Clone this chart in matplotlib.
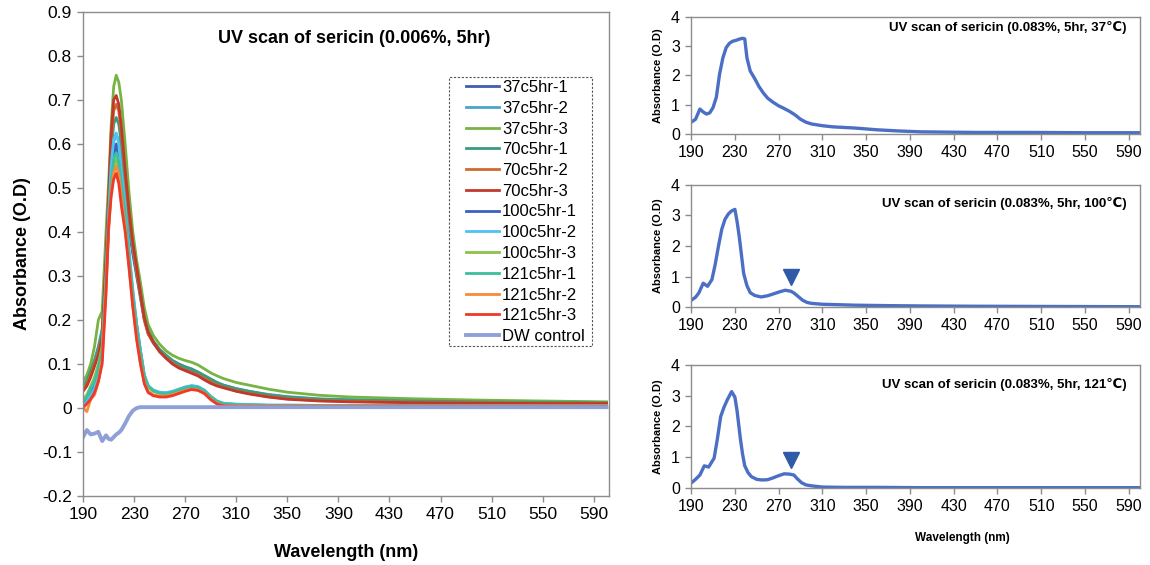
import matplotlib
matplotlib.use("Agg")
import matplotlib.pyplot as plt
from matplotlib.patches import Rectangle

plt.rcParams['font.family'] = ['Liberation Sans', 'DejaVu Sans']

# ---- left panel: 0.006% sericin, 5 hr ----
wl = [190, 193, 196, 199, 202, 205, 208, 210, 212, 214, 216, 218, 220, 223, 226, 229, 232, 235, 238, 241,
      245, 250, 255, 260, 265, 270, 275, 280, 285, 290, 295, 300, 310, 320, 335, 350, 375, 400, 450, 500, 550, 600]

c37_1 = [0.045, 0.06, 0.08, 0.10, 0.13, 0.17, 0.30, 0.42, 0.52, 0.575, 0.59, 0.58, 0.55, 0.48, 0.41, 0.35, 0.30, 0.25, 0.20, 0.17,
         0.148, 0.13, 0.116, 0.105, 0.097, 0.09, 0.085, 0.078, 0.07, 0.062, 0.055, 0.049, 0.041, 0.035, 0.028, 0.023, 0.019, 0.017, 0.015, 0.013, 0.012, 0.011]
c37_2 = [0.05, 0.065, 0.09, 0.11, 0.14, 0.18, 0.31, 0.44, 0.55, 0.605, 0.62, 0.61, 0.57, 0.49, 0.42, 0.36, 0.31, 0.26, 0.205, 0.175,
         0.152, 0.133, 0.12, 0.108, 0.10, 0.093, 0.088, 0.081, 0.073, 0.065, 0.058, 0.052, 0.044, 0.038, 0.031, 0.026, 0.021, 0.019, 0.016, 0.015, 0.014, 0.013]
c37_3 = [0.06, 0.075, 0.10, 0.14, 0.20, 0.22, 0.40, 0.51, 0.64, 0.73, 0.756, 0.74, 0.70, 0.60, 0.49, 0.40, 0.336, 0.285, 0.228, 0.19,
         0.165, 0.145, 0.13, 0.12, 0.113, 0.108, 0.104, 0.098, 0.089, 0.08, 0.073, 0.067, 0.058, 0.052, 0.043, 0.036, 0.029, 0.025, 0.021, 0.018, 0.016, 0.014]
c70_1 = [0.045, 0.06, 0.085, 0.105, 0.135, 0.175, 0.33, 0.46, 0.58, 0.645, 0.66, 0.645, 0.60, 0.51, 0.43, 0.365, 0.31, 0.26, 0.205, 0.175,
         0.152, 0.133, 0.12, 0.108, 0.10, 0.094, 0.089, 0.082, 0.074, 0.066, 0.058, 0.052, 0.044, 0.038, 0.03, 0.025, 0.02, 0.018, 0.016, 0.014, 0.013, 0.012]
c70_2 = [0.04, 0.055, 0.075, 0.10, 0.125, 0.165, 0.34, 0.47, 0.60, 0.675, 0.69, 0.675, 0.625, 0.53, 0.44, 0.37, 0.31, 0.255, 0.20, 0.168,
         0.148, 0.128, 0.114, 0.102, 0.093, 0.086, 0.081, 0.075, 0.067, 0.059, 0.052, 0.047, 0.039, 0.033, 0.026, 0.021, 0.017, 0.015, 0.013, 0.012, 0.011, 0.011]
c70_3 = [0.038, 0.05, 0.07, 0.095, 0.12, 0.16, 0.34, 0.48, 0.62, 0.70, 0.71, 0.69, 0.64, 0.54, 0.45, 0.375, 0.32, 0.26, 0.205, 0.172,
         0.15, 0.128, 0.113, 0.10, 0.091, 0.085, 0.079, 0.073, 0.064, 0.056, 0.05, 0.046, 0.038, 0.032, 0.025, 0.02, 0.016, 0.014, 0.012, 0.011, 0.01, 0.01]
c100_1 = [0.01, 0.02, 0.035, 0.05, 0.08, 0.13, 0.30, 0.43, 0.53, 0.585, 0.60, 0.58, 0.53, 0.45, 0.35, 0.26, 0.19, 0.13, 0.075, 0.05,
          0.04, 0.035, 0.034, 0.037, 0.042, 0.047, 0.05, 0.048, 0.04, 0.026, 0.015, 0.01, 0.008, 0.007, 0.006, 0.006, 0.006, 0.006, 0.006, 0.006, 0.006, 0.006]
c100_2 = [0.005, 0.015, 0.03, 0.045, 0.075, 0.125, 0.30, 0.44, 0.55, 0.61, 0.625, 0.60, 0.54, 0.46, 0.36, 0.27, 0.19, 0.13, 0.075, 0.051,
          0.041, 0.036, 0.035, 0.038, 0.043, 0.048, 0.051, 0.049, 0.041, 0.027, 0.016, 0.011, 0.009, 0.008, 0.007, 0.007, 0.006, 0.006, 0.006, 0.006, 0.006, 0.006]
c100_3 = [0.02, 0.03, 0.05, 0.07, 0.10, 0.14, 0.28, 0.41, 0.50, 0.55, 0.565, 0.545, 0.50, 0.43, 0.34, 0.25, 0.18, 0.12, 0.07, 0.048,
          0.038, 0.033, 0.032, 0.035, 0.04, 0.045, 0.048, 0.046, 0.038, 0.024, 0.014, 0.009, 0.007, 0.006, 0.006, 0.006, 0.006, 0.006, 0.006, 0.006, 0.006, 0.006]
c121_1 = [0.015, 0.025, 0.045, 0.06, 0.09, 0.135, 0.29, 0.42, 0.51, 0.565, 0.58, 0.56, 0.51, 0.44, 0.345, 0.255, 0.185, 0.125, 0.072, 0.05,
          0.039, 0.034, 0.033, 0.036, 0.041, 0.046, 0.049, 0.047, 0.039, 0.025, 0.015, 0.01, 0.008, 0.007, 0.006, 0.006, 0.006, 0.006, 0.006, 0.006, 0.006, 0.006]
c121_2 = [0.0, -0.008, 0.02, 0.03, 0.06, 0.11, 0.27, 0.40, 0.49, 0.535, 0.55, 0.53, 0.48, 0.41, 0.32, 0.23, 0.16, 0.10, 0.058, 0.038,
          0.03, 0.027, 0.027, 0.03, 0.035, 0.04, 0.043, 0.041, 0.034, 0.02, 0.01, 0.006, 0.005, 0.005, 0.005, 0.005, 0.005, 0.005, 0.005, 0.005, 0.005, 0.005]
c121_3 = [0.0, 0.01, 0.02, 0.035, 0.06, 0.10, 0.26, 0.41, 0.48, 0.52, 0.533, 0.51, 0.46, 0.40, 0.32, 0.23, 0.155, 0.10, 0.055, 0.035,
          0.028, 0.025, 0.025, 0.028, 0.033, 0.038, 0.042, 0.04, 0.033, 0.019, 0.009, 0.005, 0.004, 0.004, 0.004, 0.004, 0.004, 0.004, 0.004, 0.004, 0.004, 0.004]
dw_ctrl = [-0.066, -0.05, -0.06, -0.058, -0.054, -0.075, -0.062, -0.07, -0.072, -0.066, -0.06, -0.056, -0.05, -0.035, -0.018, -0.006, 0.0, 0.002, 0.002, 0.002,
           0.002, 0.002, 0.002, 0.002, 0.002, 0.002, 0.002, 0.002, 0.002, 0.002, 0.002, 0.002, 0.002, 0.002, 0.002, 0.002, 0.002, 0.002, 0.002, 0.002, 0.002, 0.002]

labels = ['37c5hr-1', '37c5hr-2', '37c5hr-3', '70c5hr-1', '70c5hr-2', '70c5hr-3',
          '100c5hr-1', '100c5hr-2', '100c5hr-3', '121c5hr-1', '121c5hr-2', '121c5hr-3', 'DW control']
series = [c37_1, c37_2, c37_3, c70_1, c70_2, c70_3, c100_1, c100_2, c100_3, c121_1, c121_2, c121_3, dw_ctrl]
colors = ['#3e5fae', '#4aa5c8', '#77b443', '#3a9a80', '#d06a30', '#c0392b',
          '#3d5fc0', '#4ec3ee', '#8bc34a', '#3cbf9f', '#f58b3b', '#ee3a2a', '#8fa0d8']

# ---- right panels: 0.083% sericin, 5 hr ----
top_wl = [190, 194, 198, 201, 204, 207, 210, 213, 216, 219, 222, 225, 228, 231, 234, 237, 239, 241, 244, 248, 252,
          256, 260, 265, 270, 275, 280, 285, 290, 295, 300, 310, 320, 340, 360, 380, 400, 450, 500, 550, 600]
top_od = [0.4, 0.5, 0.85, 0.75, 0.68, 0.72, 0.9, 1.25, 2.05, 2.6, 2.95, 3.1, 3.17, 3.2, 3.24, 3.27, 3.25, 2.6, 2.15, 1.9, 1.62,
          1.4, 1.22, 1.08, 0.96, 0.87, 0.77, 0.65, 0.5, 0.4, 0.34, 0.28, 0.24, 0.2, 0.14, 0.1, 0.07, 0.05, 0.05, 0.04, 0.04]

mid_wl = [190, 194, 197, 201, 205, 209, 212, 215, 218, 221, 224, 227, 230, 232, 234, 236, 238, 241, 244, 248,
          254, 260, 266, 271, 276, 281, 284, 288, 292, 296, 300, 310, 320, 340, 370, 400, 450, 500, 550, 600]
mid_od = [0.22, 0.32, 0.46, 0.78, 0.68, 0.9, 1.4, 2.0, 2.55, 2.88, 3.05, 3.15, 3.2, 2.8, 2.3, 1.7, 1.1, 0.7, 0.47, 0.38,
          0.33, 0.37, 0.44, 0.5, 0.55, 0.52, 0.46, 0.34, 0.22, 0.15, 0.12, 0.09, 0.08, 0.06, 0.045, 0.035, 0.025, 0.02, 0.015, 0.01]

bot_wl = [190, 194, 198, 202, 206, 211, 214, 217, 220, 223, 227, 230, 232, 235, 237, 239, 242, 245, 250,
          255, 260, 265, 270, 275, 280, 284, 287, 291, 295, 300, 310, 330, 360, 400, 450, 500, 550, 600]
bot_od = [0.16, 0.28, 0.42, 0.72, 0.68, 0.97, 1.6, 2.32, 2.62, 2.86, 3.13, 2.95, 2.5, 1.6, 1.1, 0.72, 0.5, 0.37, 0.28,
          0.26, 0.27, 0.33, 0.4, 0.46, 0.45, 0.42, 0.3, 0.17, 0.1, 0.07, 0.03, 0.02, 0.02, 0.01, 0.01, 0.01, 0.01, 0.01]

right_titles = ['UV scan of sericin (0.083%, 5hr, 37\u2103)',
                'UV scan of sericin (0.083%, 5hr, 100\u2103)',
                'UV scan of sericin (0.083%, 5hr, 121\u2103)']
arrow_wl = 281
arrow_od = [None, 0.98, 0.92]  # triangle markers on the 100 and 121 C panels

xticks = list(range(190, 600, 40))
spine_col = '#8c8c8c'


def style_axes(ax, tsize):
    for s in ax.spines.values():
        s.set_color(spine_col)
        s.set_linewidth(1.0)
    ax.tick_params(direction='out', length=4, width=1, color=spine_col, labelsize=tsize, pad=4)
    ax.set_xticks(xticks)


fig = plt.figure(figsize=(11.5, 5.65), dpi=100)

ax = fig.add_axes([0.0722, 0.122, 0.4574, 0.857])
for y, c, lab in zip(series, colors, labels):
    lw = 2.8 if lab == 'DW control' else 2.0
    ax.plot(wl, y, color=c, lw=lw, label=lab)
ax.set_xlim(190, 602)
ax.set_ylim(-0.2, 0.9)
ax.set_yticks([-0.2, -0.1, 0, 0.1, 0.2, 0.3, 0.4, 0.5, 0.6, 0.7, 0.8, 0.9])
ax.set_yticklabels(['-0.2', '-0.1', '0', '0.1', '0.2', '0.3', '0.4', '0.5', '0.6', '0.7', '0.8', '0.9'])
style_axes(ax, 12.5)
ax.set_xlabel('Wavelength (nm)', fontsize=13, fontweight='bold', labelpad=16)
ax.set_ylabel('Absorbance (O.D)', fontsize=13, fontweight='bold', labelpad=8)
ax.text(0.515, 0.946, 'UV scan of sericin (0.006%, 5hr)', transform=ax.transAxes,
        ha='center', va='center', fontsize=13, fontweight='bold')

# legend without its own frame, then a dashed box drawn around it
leg = ax.legend(loc='upper left', bbox_to_anchor=(466 / 1150, 1 - 80 / 565), bbox_transform=fig.transFigure,
                fontsize=12, handlelength=2.0, handletextpad=0.15, labelspacing=0.345,
                borderpad=0, borderaxespad=0, frameon=False)
fig.patches.append(Rectangle((449 / 1150, 1 - 346 / 565), 143 / 1150, 269 / 565, transform=fig.transFigure,
                             fill=False, ec='#555555', lw=0.8, ls=(0, (2, 1.5))))

right_pos = [[0.601, 0.763, 0.390, 0.207],
             [0.601, 0.4566, 0.390, 0.216],
             [0.601, 0.1363, 0.390, 0.218]]
right_data = [(top_wl, top_od), (mid_wl, mid_od), (bot_wl, bot_od)]
title_y = [0.906, 0.852, 0.837]

for i in range(3):
    rax = fig.add_axes(right_pos[i])
    x, y = right_data[i]
    rax.plot(x, y, color='#4a6fc4', lw=2.4)
    if arrow_od[i] is not None:
        rax.plot([arrow_wl], [arrow_od[i]], marker='v', color='#2e5aa8', markersize=12, ls='none')
    rax.set_xlim(190, 600)
    rax.set_ylim(0, 4)
    rax.set_yticks([0, 1, 2, 3, 4])
    style_axes(rax, 11.5)
    rax.set_ylabel('Absorbance (O.D)', fontsize=8, fontweight='bold', labelpad=6)
    rax.text(0.971, title_y[i], right_titles[i], transform=rax.transAxes,
             ha='right', va='center', fontsize=9.5, fontweight='bold')

fig.text(962 / 1150, 1 - 538 / 565, 'Wavelength (nm)', ha='center', va='center', fontsize=8.5, fontweight='bold')

fig.savefig('out.png', dpi=100)
